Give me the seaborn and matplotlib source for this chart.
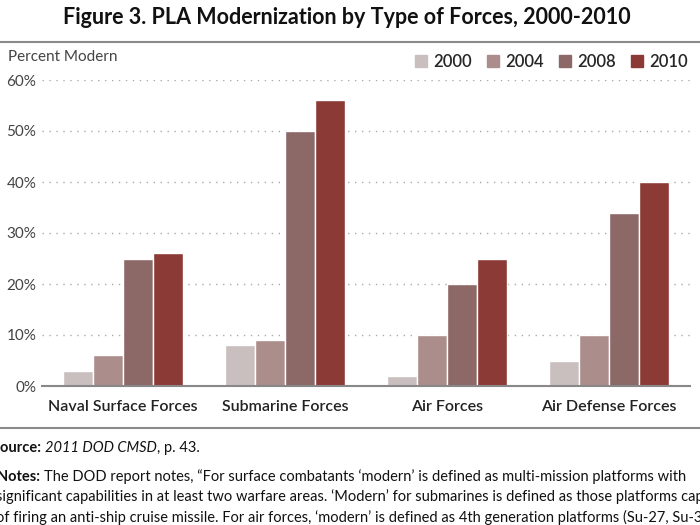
import matplotlib
matplotlib.use("Agg")
import matplotlib.pyplot as plt
import seaborn as sns
import pandas as pd

# values
forces = ["Naval Surface Forces", "Submarine Forces", "Air Forces", "Air Defense Forces"]
years = ["2000", "2004", "2008", "2010"]
pct_2000 = [3, 8, 2, 5]
pct_2004 = [6, 9, 10, 10]
pct_2008 = [25, 50, 20, 34]
pct_2010 = [26, 56, 25, 40]
colors = ["#c9bfbe", "#ab8d8b", "#8c6867", "#8c3a36"]
yticks = [0, 10, 20, 30, 40, 50, 60]

rows = []
for yr, vals in zip(years, [pct_2000, pct_2004, pct_2008, pct_2010]):
    for f, v in zip(forces, vals):
        rows.append({"force": f, "year": yr, "pct": v})
df = pd.DataFrame(rows)

sns.set_style("white")
plt.rcParams["font.family"] = ["Lato", "DejaVu Sans"]

fig = plt.figure(figsize=(7, 5.25), dpi=100)
ax = fig.add_axes([0.06, 1 - 386 / 525, 0.926, (386 - 80) / 525])

sns.barplot(data=df, x="force", y="pct", hue="year", order=forces,
            hue_order=years, palette=colors, width=0.74, edgecolor="white",
            linewidth=1, saturation=1, ax=ax, legend=False)

ax.set_ylim(0, 60)
ax.set_xlim(-0.5, 3.5)
ax.set_yticks(yticks)
ax.set_yticklabels([f"{t}%" for t in yticks], fontsize=11, color="#444444")
ax.tick_params(axis="y", length=0, pad=4)
ax.tick_params(axis="x", length=0, pad=10)
for lbl in ax.get_xticklabels():
    lbl.set_fontsize(11.5)
    lbl.set_fontweight("semibold")
    lbl.set_color("#222222")
ax.set_xlabel("")
ax.set_ylabel("")
for t in yticks[1:]:
    ax.axhline(t, color="#aaaaaa", linestyle=(0, (1, 4)), linewidth=1, zorder=0)
for s in ["top", "right", "left"]:
    ax.spines[s].set_visible(False)
ax.spines["bottom"].set_color("#888888")
ax.spines["bottom"].set_linewidth(1.5)

# legend
handles = [plt.Rectangle((0, 0), 1, 1, color=c) for c in colors]
fig.legend(handles, years, loc="center right", bbox_to_anchor=(0.992, 1 - 62 / 525),
           ncol=4, frameon=False, handlelength=0.75, handleheight=0.75,
           handletextpad=0.35, columnspacing=0.9, borderaxespad=0,
           prop={"weight": "semibold", "size": 12})

fig.text(0.012, 1 - 57 / 525, "Percent Modern", fontsize=11, color="#444444",
         va="center", ha="left")

fig.text(0.496, 1 - 18 / 525, "Figure 3. PLA Modernization by Type of Forces, 2000-2010",
         fontsize=15.5, fontweight="bold", ha="center", va="center", color="#111111")

for ypix in [42, 428]:
    fig.add_artist(plt.Line2D([0, 1], [1 - ypix / 525] * 2, color="#8a8a8a", linewidth=1.5))

renderer = fig.canvas.get_renderer()


def run_text(x, y, pieces, size=10.5):
    # draw text pieces one after another on one line
    for s, kw in pieces:
        t = fig.text(x, y, s, fontsize=size, va="center", ha="left", color="#111111", **kw)
        bb = t.get_window_extent(renderer)
        x = bb.x1 / fig.bbox.width


run_text(-0.011, 1 - 448 / 525, [("Source: ", {"fontweight": "bold"}),
                                  ("2011 DOD CMSD", {"style": "italic"}),
                                  (", p. 43.", {})])

run_text(-0.004, 1 - 477 / 525, [
    ("Notes: ", {"fontweight": "bold"}),
    ("The DOD report notes, \u201cFor surface combatants \u2018modern\u2019 is defined as multi-mission platforms with", {}),
])
run_text(-0.006, 1 - 497 / 525, [
    ("significant capabilities in at least two warfare areas. \u2018Modern\u2019 for submarines is defined as those platforms capable", {}),
])
run_text(-0.006, 1 - 517 / 525, [
    ("of firing an anti-ship cruise missile. For air forces, \u2018modern\u2019 is defined as 4th generation platforms (Su-27, Su-30", {}),
])

fig.savefig("out.png", dpi=100)
